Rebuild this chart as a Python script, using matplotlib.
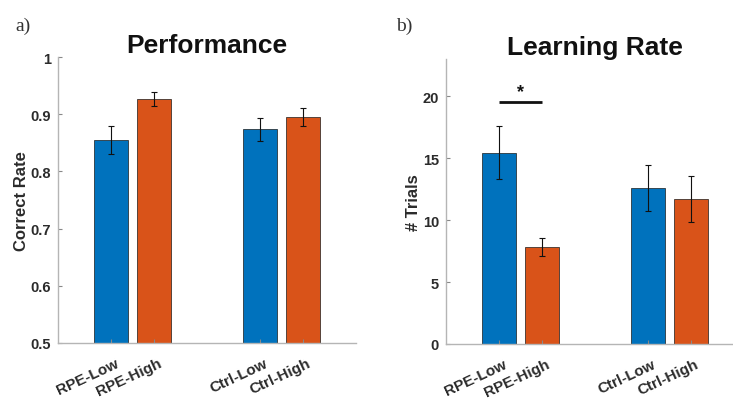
import numpy as np
import matplotlib.pyplot as plt
import matplotlib.transforms as mtransforms
from matplotlib.ticker import FormatStrFormatter

plt.rcParams['font.family'] = ['Liberation Sans', 'DejaVu Sans']

# data
groups = ['RPE', 'Ctrl']
tick_labels = ['RPE-Low', 'RPE-High', 'Ctrl-Low', 'Ctrl-High']
perf_low = [0.855, 0.874]
perf_high = [0.927, 0.895]
perf_low_err = [0.025, 0.020]
perf_high_err = [0.012, 0.015]
lr_low = [15.45, 12.6]
lr_high = [7.82, 11.7]
lr_low_err = [2.15, 1.85]
lr_high_err = [0.72, 1.87]

blue = '#0072BD'
orange = '#D95319'
txt = '#2b2b2b'
axc = '#b5b5b5'

fig = plt.figure(figsize=(7.33, 4.02), dpi=100)
ax1 = fig.add_axes([0.0791, 0.1443, 0.4066, 0.7114])
ax2 = fig.add_axes([0.6085, 0.1418, 0.4066, 0.7090])

x = np.arange(1, len(groups) + 1)
off = 0.1429
w = 0.2286


def draw(ax, low, high, elow, ehigh, ylim, yticks, title, ylabel):
    ax.bar(x - off, low, w, color=blue, edgecolor='#1a1a1a', linewidth=0.5)
    ax.bar(x + off, high, w, color=orange, edgecolor='#1a1a1a', linewidth=0.5)
    ax.errorbar(x - off, low, yerr=elow, fmt='none', ecolor='#111111',
                elinewidth=0.8, capsize=2.5, capthick=0.8)
    ax.errorbar(x + off, high, yerr=ehigh, fmt='none', ecolor='#111111',
                elinewidth=0.8, capsize=2.5, capthick=0.8)
    ax.set_xlim(0.5, 2.5)
    ax.set_ylim(*ylim)
    ax.set_yticks(yticks)
    ax.yaxis.set_major_formatter(FormatStrFormatter('%g'))
    ax.set_xticks([1 - off, 1 + off, 2 - off, 2 + off])
    ax.tick_params(axis='both', direction='in', length=3, width=0.8,
                   color='#888888')
    ax.tick_params(axis='x', pad=9)
    ax.tick_params(axis='y', pad=5)
    ax.set_xticklabels(tick_labels, rotation=25, ha='right',
                       rotation_mode='anchor', fontweight='bold',
                       fontsize=11, color=txt)
    shift = mtransforms.ScaledTranslation(4 / 100, 0, fig.dpi_scale_trans)
    for lab in ax.get_xticklabels():
        lab.set_transform(lab.get_transform() + shift)
    for lab in ax.get_yticklabels():
        lab.set_fontweight('bold')
        lab.set_fontsize(10.5)
        lab.set_color(txt)
    for s in ['top', 'right']:
        ax.spines[s].set_visible(False)
    for s in ['left', 'bottom']:
        ax.spines[s].set_color(axc)
        ax.spines[s].set_linewidth(1.0)
    ax.set_title(title, fontsize=19, fontweight='bold', color='#111111', pad=3)
    ax.set_ylabel(ylabel, fontsize=12, fontweight='bold', color=txt, labelpad=1)


draw(ax1, perf_low, perf_high, perf_low_err, perf_high_err,
     (0.5, 1.0), [0.5, 0.6, 0.7, 0.8, 0.9, 1.0], 'Performance', 'Correct Rate')
draw(ax2, lr_low, lr_high, lr_low_err, lr_high_err,
     (0, 23), [0, 5, 10, 15, 20], 'Learning Rate', '# Trials')

# significance marker
ax2.plot([1 - off, 1 + off], [19.5, 19.5], color='#111111', lw=2,
         solid_capstyle='butt')
ax2.text(1, 19.7, '*', ha='center', va='bottom', fontsize=13,
         fontweight='bold', color='#111111')

fig.text(0.021, 0.955, 'a)', family='Liberation Serif', fontsize=14,
         color='#333333', va='top')
fig.text(0.540, 0.955, 'b)', family='Liberation Serif', fontsize=14,
         color='#333333', va='top')

fig.savefig('out.png', dpi=100)
